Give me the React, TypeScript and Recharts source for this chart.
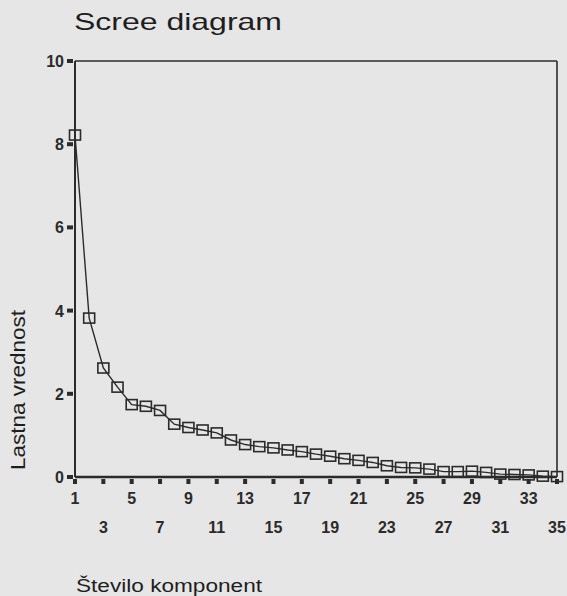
import React from 'react';
import { LineChart, Line, XAxis, YAxis, ReferenceLine } from 'recharts';

// eigenvalues per component
const components = Array.from({ length: 35 }, (_, i) => i + 1);
const eigenvalues = [
    8.22, 3.82, 2.62, 2.16, 1.74, 1.70, 1.60, 1.27, 1.19, 1.13,
    1.06, 0.89, 0.78, 0.73, 0.70, 0.65, 0.61, 0.55, 0.50, 0.44,
    0.40, 0.35, 0.27, 0.23, 0.22, 0.19, 0.13, 0.13, 0.14, 0.11,
    0.07, 0.06, 0.05, 0.02, 0.01,
];
const xTicks = [1, 3, 5, 7, 9, 11, 13, 15, 17, 19, 21, 23, 25, 27, 29, 31, 33, 35];
const yTicks = [0, 2, 4, 6, 8, 10];

const title = 'Scree diagram';
const xTitle = 'Število komponent';
const yTitle = 'Lastna vrednost';

const data = components.map((c, i) => ({ comp: c, value: eigenvalues[i] }));

const ink = '#2b2b2b';
const font = '"Liberation Sans", Arial, sans-serif';

const XTick = (props: any) => {
    const { x, y, payload, index } = props;
    const secondRow = index % 2 === 1;
    return (
        <g>
            <rect x={x - 2} y={y + 2} width={4} height={5} fill={ink} />
            <text
                x={x}
                y={y + (secondRow ? 56 : 27)}
                textAnchor="middle"
                fontFamily={font}
                fontWeight="bold"
                fontSize={16}
                fill={ink}
            >
                {payload.value}
            </text>
        </g>
    );
};

const YTick = (props: any) => {
    const { x, y, payload } = props;
    return (
        <g>
            <rect x={x - 8} y={y - 2} width={6} height={4} fill={ink} />
            <text
                x={x - 11}
                y={y + 6}
                textAnchor="end"
                fontFamily={font}
                fontWeight="bold"
                fontSize={16}
                fill={ink}
            >
                {payload.value}
            </text>
        </g>
    );
};

const SquareDot = (props: any) => {
    const { cx, cy, index } = props;
    if (cx == null || cy == null) return null;
    return (
        <rect
            key={index}
            x={cx - 5.5}
            y={cy - 5}
            width={11}
            height={10}
            fill="none"
            stroke={ink}
            strokeWidth={1.6}
        />
    );
};

export default function App() {
    return (
        <div
            style={{
                position: 'absolute',
                top: 0,
                left: 0,
                width: 567,
                height: 596,
                background: '#e6e6e6',
                overflow: 'hidden',
            }}
        >
            <LineChart
                width={567}
                height={596}
                data={data}
                margin={{ top: 61, right: 10, bottom: 89, left: 15 }}
            >
                <XAxis
                    dataKey="comp"
                    type="number"
                    domain={[1, 35]}
                    ticks={xTicks}
                    interval={0}
                    height={30}
                    tickSize={0}
                    tickMargin={0}
                    tickLine={false}
                    tick={<XTick />}
                    axisLine={{ stroke: ink, strokeWidth: 2.5 }}
                />
                <YAxis
                    type="number"
                    domain={[0, 10]}
                    ticks={yTicks}
                    width={60}
                    tickSize={0}
                    tickMargin={0}
                    tickLine={false}
                    tick={<YTick />}
                    axisLine={{ stroke: ink, strokeWidth: 2 }}
                />
                <ReferenceLine y={10} stroke={ink} strokeWidth={1.6} />
                <ReferenceLine x={35} stroke={ink} strokeWidth={1.6} />
                <Line
                    dataKey="value"
                    type="linear"
                    stroke={ink}
                    strokeWidth={1.4}
                    dot={<SquareDot />}
                    isAnimationActive={false}
                />
            </LineChart>
            <svg
                width={567}
                height={596}
                style={{ position: 'absolute', top: 0, left: 0, pointerEvents: 'none' }}
            >
                <text
                    x={74}
                    y={30}
                    fontFamily={font}
                    fontSize={24}
                    fill="#1e1e1e"
                    textLength={208}
                    lengthAdjust="spacingAndGlyphs"
                >
                    {title}
                </text>
                <text
                    x={76}
                    y={592}
                    fontFamily={font}
                    fontSize={18}
                    fill="#1e1e1e"
                    textLength={186}
                    lengthAdjust="spacingAndGlyphs"
                >
                    {xTitle}
                </text>
                <text
                    x={25}
                    y={470}
                    transform="rotate(-90 25 470)"
                    fontFamily={font}
                    fontSize={21}
                    fill="#1e1e1e"
                    textLength={160}
                    lengthAdjust="spacingAndGlyphs"
                >
                    {yTitle}
                </text>
            </svg>
        </div>
    );
}
